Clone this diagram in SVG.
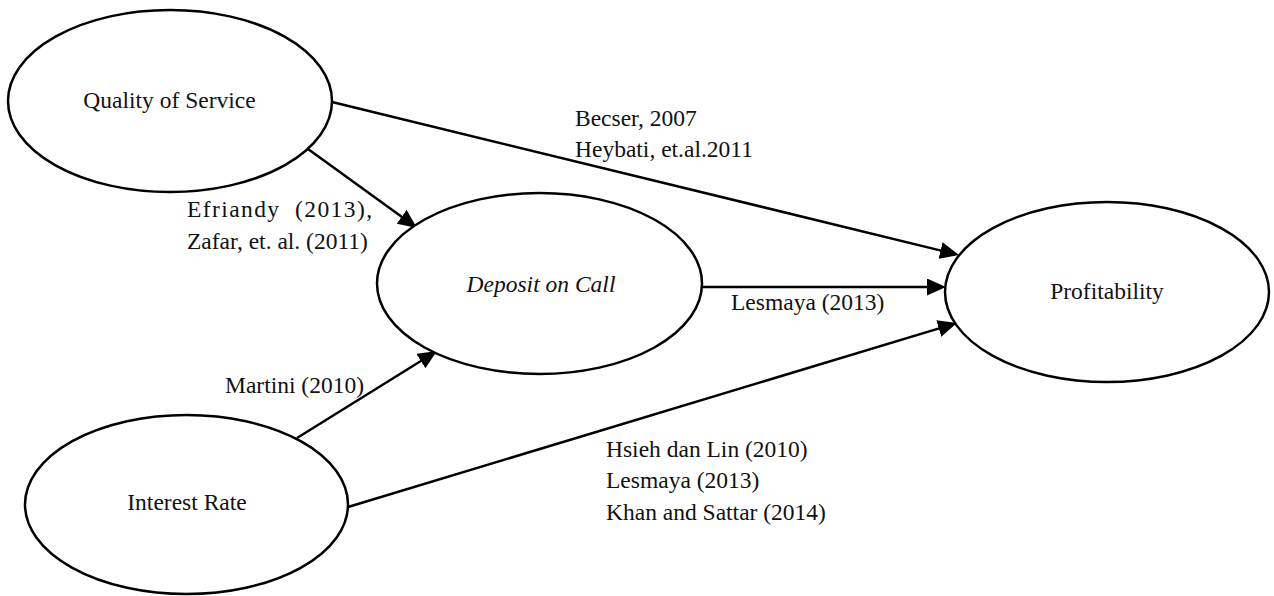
<svg xmlns="http://www.w3.org/2000/svg" width="1274" height="596" viewBox="0 0 1274 596">
<style>
.node ellipse{fill:#fff;stroke:#000;stroke-width:2.5}
text{font-family:"Liberation Serif","Times New Roman",serif;font-size:23.5px;fill:#111}
.lbl{text-anchor:middle}
.conn line{stroke:#000;stroke-width:2.5}
</style>
<defs>
<marker id="arr" viewBox="0 0 19 17" refX="9" refY="8.5" markerWidth="19" markerHeight="17" markerUnits="userSpaceOnUse" orient="auto">
<path d="M0,0 L19,8.5 L0,17 z" fill="#000"/>
</marker>
</defs>
<rect width="1274" height="596" fill="#fff"/>
<g id="connectors" class="conn">
<line x1="332" y1="102" x2="949.3" y2="252.6" marker-end="url(#arr)"/>
<line x1="308" y1="149" x2="408.9" y2="222.1" marker-end="url(#arr)"/>
<line x1="702" y1="287" x2="936" y2="287" marker-end="url(#arr)"/>
<line x1="297" y1="438" x2="428.5" y2="356.3" marker-end="url(#arr)"/>
<line x1="348" y1="507" x2="947.4" y2="325.9" marker-end="url(#arr)"/>
</g>
<g id="node-quality" class="node">
<ellipse cx="170" cy="101" rx="162" ry="91"/>
<text class="lbl" x="169.5" y="108">Quality of Service</text>
</g>
<g id="node-deposit" class="node">
<ellipse cx="539.5" cy="283.5" rx="162.5" ry="90.5"/>
<text class="lbl" x="541" y="292" font-style="italic">Deposit on Call</text>
</g>
<g id="node-profitability" class="node">
<ellipse cx="1107" cy="292" rx="162" ry="90"/>
<text class="lbl" x="1107" y="299">Profitability</text>
</g>
<g id="node-interest" class="node">
<ellipse cx="186.5" cy="504.5" rx="161.5" ry="89.5"/>
<text class="lbl" x="187" y="510">Interest Rate</text>
</g>
<g id="edge-labels">
<text x="575" y="126">Becser, 2007</text>
<text x="575" y="157">Heybati, et.al.2011</text>
<text x="187" y="217" xml:space="preserve" textLength="185" lengthAdjust="spacing">Efriandy  (2013),</text>
<text x="187" y="249">Zafar, et. al. (2011)</text>
<text x="225" y="393">Martini (2010)</text>
<text x="731" y="310">Lesmaya (2013)</text>
<text x="606" y="457">Hsieh dan Lin (2010)</text>
<text x="606" y="488">Lesmaya (2013)</text>
<text x="606" y="520">Khan and Sattar (2014)</text>
</g>
</svg>
